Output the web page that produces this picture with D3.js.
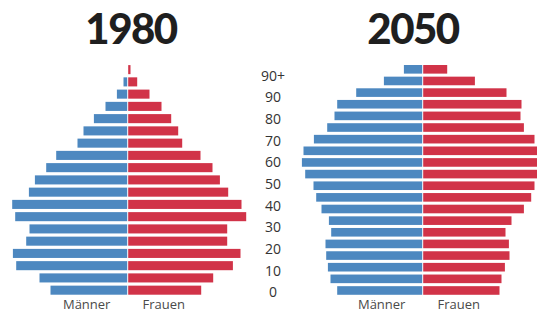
<!DOCTYPE html>
<html>
<head>
<meta charset="utf-8">
<script src="https://cdn.jsdelivr.net/npm/d3@7"></script>
<style>
  body { margin: 0; background: #fff; }
  svg { display: block; }
</style>
</head>
<body>
<div class="chart"></div>
<script>
var width = 537
var height = 314

// age groups, top to bottom
var groups1980 = ['90+', '85', '80', '75', '70', '65', '60', '55', '50', '45', '40', '35', '30', '25', '20', '15', '10', '5', '0']
var men1980 = [0, 3.7, 10.3, 21.7, 33.3, 43.7, 49.7, 71, 81, 92.3, 98.3, 115, 112, 97.7, 101, 114.3, 111, 87.7, 76.7]
var women1980 = [2.3, 9, 21.3, 33.3, 43, 50, 54, 72.3, 84.3, 91.7, 100, 113.3, 118, 99, 99, 112.3, 104.7, 85, 73]

var groups2050 = ['95+', '90', '85', '80', '75', '70', '65', '60', '55', '50', '45', '40', '35', '30', '25', '20', '15', '10', '5', '0']
var men2050 = [18.3, 38.3, 66, 85, 87.7, 95, 108.3, 118.7, 120.3, 117, 108.7, 106, 100.7, 93.3, 91, 96.7, 96, 94.3, 91.7, 85]
var women2050 = [24, 51.7, 83.3, 98.3, 97.3, 100.7, 111.3, 118, 120, 119, 111.3, 108, 100.7, 88.3, 82.3, 85.7, 86.3, 81.7, 78.3, 76.3]

var ageTicks = [0, 10, 20, 30, 40, 50, 60, 70, 80, 90, 100]

var blue = '#4d88c0'
var red = '#d13348'

var svg = d3.select('.chart').append('svg')
    .attr('width', width)
    .attr('height', height)

var x = d3.scaleLinear().domain([0, 120]).range([0, 120])

function pyramid(cx, groups, men, women, title, titleX) {
    var y = d3.scaleBand().domain(groups).range([63.5, 296.3]).paddingInner(0.26).paddingOuter(0.13)
    var g = svg.append('g')

    g.selectAll('.men')
        .data(groups)
        .enter()
        .append('rect')
        .attr('x', function (d, i) { return cx - 0.5 - x(men[i]) })
        .attr('y', function (d) { return y(d) })
        .attr('width', function (d, i) { return x(men[i]) })
        .attr('height', y.bandwidth())
        .attr('fill', blue)

    g.selectAll('.women')
        .data(groups)
        .enter()
        .append('rect')
        .attr('x', cx + 0.5)
        .attr('y', function (d) { return y(d) })
        .attr('width', function (d, i) { return x(women[i]) })
        .attr('height', y.bandwidth())
        .attr('fill', red)

    g.append('text')
        .attr('x', titleX)
        .attr('y', 44)
        .attr('text-anchor', 'middle')
        .style('font-family', 'Lato, "Open Sans", sans-serif')
        .style('font-weight', 900)
        .style('font-size', '42px')
        .style('letter-spacing', '-1.5px')
        .attr('fill', '#1f1f1f')
        .text(title)

    g.append('text')
        .attr('x', cx - 41)
        .attr('y', 309)
        .attr('text-anchor', 'middle')
        .style('font-family', '"Open Sans", sans-serif')
        .style('font-size', '13px')
        .attr('fill', '#4a4a4a')
        .text('Männer')

    g.append('text')
        .attr('x', cx + 36)
        .attr('y', 309)
        .attr('text-anchor', 'middle')
        .style('font-family', '"Open Sans", sans-serif')
        .style('font-size', '13px')
        .attr('fill', '#4a4a4a')
        .text('Frauen')
}

pyramid(127.7, groups1980, men1980, women1980, '1980', 131)
pyramid(422.7, groups2050, men2050, women2050, '2050', 413)

// age axis in the middle
var age = d3.scaleLinear().domain([0, 100]).range([292.3, 75.7])
var axis = svg.append('g')
    .attr('transform', 'translate(273,0)')
    .call(d3.axisRight(age)
        .tickValues(ageTicks)
        .tickSize(0)
        .tickPadding(0)
        .tickFormat(function (d) { return d === 100 ? '90+' : d }))

axis.select('.domain').remove()
axis.selectAll('text')
    .attr('text-anchor', 'middle')
    .style('font-family', '"Open Sans", sans-serif')
    .style('font-size', '14px')
    .attr('fill', '#333')
</script>
</body>
</html>
